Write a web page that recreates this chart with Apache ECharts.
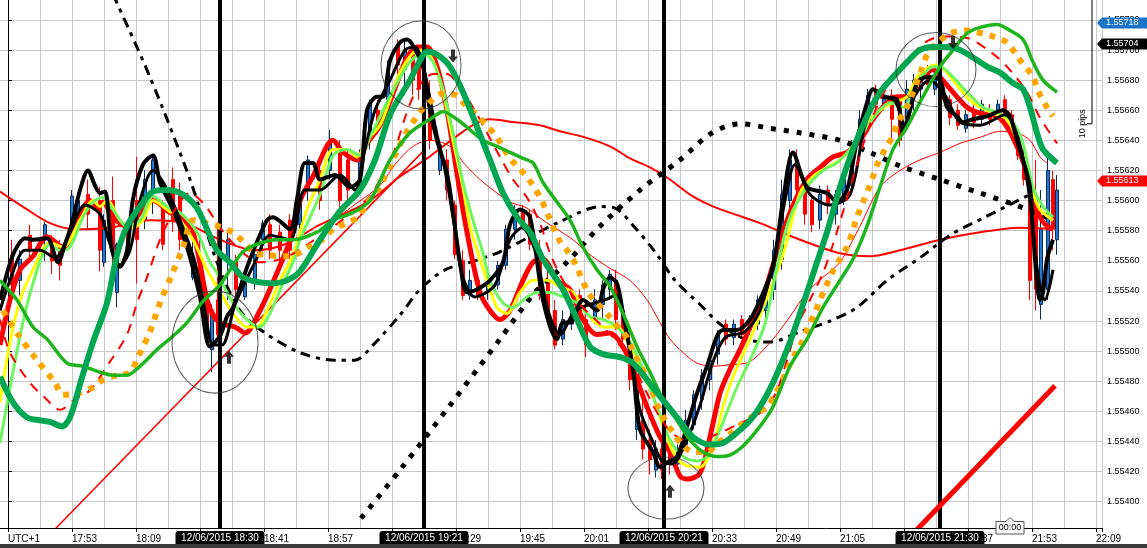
<!DOCTYPE html>
<html><head><meta charset="utf-8">
<script src="https://cdn.jsdelivr.net/npm/echarts/dist/echarts.min.js"></script>
<style>html,body{margin:0;padding:0;background:#fff;}#c{width:1147px;height:548px;}</style>
</head><body><div id="c"></div>
<script>
// time axis: minutes after 17:37 (UTC+1), 12/06/2015
const BASE_MIN = 17 * 60 + 37;
const dateStr = '12/06/2015';

// [minute, price]
const blackFast = [[-2,1.55534],[0,1.55554],[1.75,1.55567],[4.25,1.55575],[6.25,1.55574],[9.75,1.55575],[12.5,1.55559],[14.25,1.55571],[16,1.55585],[18,1.55607],[20,1.55620],[21.75,1.55610],[23,1.55605],[24.25,1.55606],[26,1.55567],[28,1.55556],[29.75,1.55567],[31.25,1.55601],[33.75,1.55624],[36.25,1.55630],[38,1.55612],[41.25,1.55594],[44.75,1.55569],[48,1.55536],[50.5,1.55503],[53,1.55510],[54.75,1.55523],[56.25,1.55529],[60.5,1.55561],[64.75,1.55587],[66.25,1.55589],[70.5,1.55581],[72.25,1.55601],[74.25,1.55625],[76.25,1.55625],[78,1.55614],[81.75,1.55617],[85.5,1.55609],[88,1.55614],[89.75,1.55660],[92.25,1.55669],[93.75,1.55669],[95.5,1.55693],[98,1.55705],[99.75,1.55707],[101.25,1.55703],[103.75,1.55689],[105.5,1.55660],[107.25,1.55640],[109.75,1.55618],[111.25,1.55592],[113,1.55559],[114.75,1.55539],[117.25,1.55541],[120.5,1.55547],[123.75,1.55559],[125.5,1.55584],[128,1.55594],[130.5,1.55589],[133.75,1.55534],[137.25,1.55508],[138.75,1.55519],[140.5,1.55519],[143.75,1.55534],[147.25,1.55527],[148.75,1.55541],[150.5,1.55549],[152.25,1.55545],[153.75,1.55525],[156.25,1.55488],[158,1.55448],[161.25,1.55433],[163,1.55423],[164.75,1.55426],[167.25,1.55430],[169.75,1.55450],[172.25,1.55472],[174.75,1.55490],[177.25,1.55510],[178.75,1.55514],[182.25,1.55514],[185.5,1.55521],[188,1.55534],[191.25,1.55556],[193.75,1.55600],[196.25,1.55632],[199.75,1.55609],[204.75,1.55605],[207.25,1.55599],[209.75,1.55607],[212.25,1.55640],[214.75,1.55665],[216.25,1.55674],[218.75,1.55669],[222.25,1.55667],[223.75,1.55645],[225.5,1.55660],[227.25,1.55678],[229.75,1.55682],[233,1.55680],[234.75,1.55662],[237.25,1.55656],[238.75,1.55652],[241.25,1.55654],[244.75,1.55656],[248.75,1.55660],[250.5,1.55656],[252.25,1.55640],[253.75,1.55627],[255.5,1.55609],[256.25,1.55579],[258,1.55534],[258.75,1.55539],[259.75,1.55561],[261.25,1.55574]];
const blackSlow = [[-2,1.55527],[0.5,1.55547],[4.25,1.55567],[8,1.55567],[11.75,1.55562],[15.5,1.55579],[19.25,1.55597],[23,1.55591],[25.5,1.55571],[28,1.55557],[30.5,1.55567],[33,1.55600],[36.25,1.55620],[39.25,1.55610],[43,1.55587],[46.75,1.55559],[49.25,1.55527],[51.25,1.55504],[53.5,1.55504],[56.75,1.55531],[61.75,1.55559],[65.5,1.55577],[70.5,1.55574],[74.25,1.55607],[78,1.55607],[83,1.55617],[86.75,1.55607],[89.25,1.55634],[91.75,1.55660],[95.5,1.55680],[99.25,1.55700],[101.75,1.55702],[104.25,1.55684],[106.75,1.55650],[109.25,1.55620],[111.75,1.55581],[113.5,1.55551],[116.75,1.55536],[121.75,1.55544],[125.5,1.55574],[128.5,1.55582],[131.75,1.55567],[135,1.55527],[138,1.55511],[141.75,1.55527],[145.5,1.55531],[149.25,1.55534],[151.75,1.55537],[155,1.55508],[158,1.55461],[161,1.55441],[163.5,1.55427],[166,1.55425],[169.25,1.55438],[173,1.55464],[176,1.55491],[179.25,1.55509],[184.25,1.55513],[188,1.55527],[191.75,1.55564],[194.25,1.55600],[196.75,1.55624],[200.5,1.55604],[205.5,1.55597],[210.5,1.55604],[214.25,1.55650],[218,1.55670],[221.75,1.55666],[224.25,1.55650],[226.75,1.55670],[230.5,1.55680],[234.25,1.55670],[238,1.55652],[243,1.55650],[249.25,1.55657],[253,1.55637],[255.5,1.55600],[257.5,1.55551],[259.25,1.55534],[261.25,1.55554]];
const redFast = [[-2,1.55504],[0.5,1.55534],[3,1.55554],[6.25,1.55563],[9.75,1.55576],[13.75,1.55569],[18,1.55592],[20.5,1.55600],[22.25,1.55595],[23.75,1.55599],[26.25,1.55589],[29.75,1.55583],[33,1.55592],[36.25,1.55600],[40.5,1.55592],[43,1.55589],[46.25,1.55579],[49.75,1.55534],[51.75,1.55522],[53.75,1.55518],[56.75,1.55516],[59.25,1.55512],[63,1.55527],[67.25,1.55552],[71.25,1.55579],[73,1.55600],[76.25,1.55616],[81.25,1.55640],[83.75,1.55632],[87.25,1.55627],[89.75,1.55638],[93,1.55650],[97.25,1.55678],[99.75,1.55695],[102.25,1.55702],[104.75,1.55702],[107.25,1.55689],[109.75,1.55660],[112.25,1.55618],[114.75,1.55579],[118,1.55539],[120.5,1.55527],[123,1.55521],[125.5,1.55527],[128.75,1.55547],[131.25,1.55559],[133.75,1.55561],[137.25,1.55547],[140.5,1.55541],[143.75,1.55521],[147.25,1.55511],[150.5,1.55512],[153.75,1.55503],[156.25,1.55488],[159.75,1.55463],[163,1.55443],[165.5,1.55433],[168,1.55417],[169.75,1.55415],[173,1.55419],[175.5,1.55443],[178,1.55472],[180.5,1.55488],[183,1.55501],[185.5,1.55516],[188.5,1.55534],[191.25,1.55557],[195.5,1.55592],[199.75,1.55614],[203,1.55622],[206.25,1.55629],[209.75,1.55632],[213,1.55640],[216.25,1.55654],[219.75,1.55665],[222.25,1.55669],[224.75,1.55669],[228,1.55680],[231.25,1.55687],[233,1.55682],[236.25,1.55672],[239.75,1.55662],[243,1.55658],[247.25,1.55656],[249.75,1.55649],[252.25,1.55636],[254.75,1.55618],[256.25,1.55600],[258,1.55589],[259.75,1.55583],[261.25,1.55581]];
const yellowMA = [[-2,1.55466],[0.5,1.55506],[3,1.55534],[6.25,1.55554],[10.5,1.55572],[13.75,1.55569],[18,1.55587],[21.25,1.55600],[23,1.55596],[24.75,1.55600],[28,1.55587],[30.5,1.55581],[33.75,1.55587],[36.25,1.55600],[39.75,1.55594],[43,1.55587],[46.25,1.55574],[49.75,1.55554],[51.25,1.55547],[53.75,1.55536],[56.25,1.55525],[59.75,1.55516],[62.25,1.55516],[64.75,1.55527],[68,1.55547],[71.25,1.55564],[74.75,1.55594],[78,1.55614],[81.25,1.55634],[84.75,1.55634],[87.25,1.55629],[89.75,1.55640],[93,1.55650],[95.5,1.55667],[98,1.55685],[101.25,1.55698],[103.75,1.55700],[106.25,1.55693],[108.75,1.55672],[111.25,1.55640],[113.75,1.55609],[115.5,1.55583],[118,1.55561],[122.25,1.55529],[124.75,1.55525],[128,1.55539],[131.25,1.55547],[134.75,1.55547],[138,1.55543],[141.25,1.55539],[144.75,1.55525],[148.75,1.55516],[152.25,1.55516],[155.5,1.55503],[158,1.55490],[161.25,1.55470],[163.75,1.55450],[166.25,1.55433],[168.75,1.55425],[173,1.55423],[176.25,1.55437],[178.75,1.55463],[181.25,1.55483],[185.5,1.55508],[188.5,1.55527],[193.75,1.55564],[198,1.55605],[201.25,1.55616],[204.75,1.55622],[208,1.55627],[211.25,1.55636],[214.75,1.55652],[218,1.55660],[221.25,1.55665],[224.75,1.55669],[227.25,1.55682],[230.5,1.55689],[232.25,1.55690],[234.75,1.55685],[238,1.55674],[241.25,1.55665],[246.25,1.55658],[249.75,1.55654],[252.25,1.55640],[254.75,1.55622],[256.25,1.55605],[258,1.55594],[261.25,1.55587]];
const limeMA = [[-2,1.55439],[3,1.55510],[6.25,1.55545],[10.5,1.55571],[13,1.55567],[15.5,1.55569],[18.75,1.55589],[21.25,1.55599],[23.75,1.55602],[26.25,1.55594],[29.75,1.55583],[33,1.55587],[36.25,1.55603],[39.75,1.55596],[43,1.55592],[47.25,1.55579],[50.5,1.55559],[52.25,1.55552],[56.25,1.55532],[59.75,1.55521],[63,1.55516],[65.5,1.55525],[68.75,1.55545],[71.25,1.55559],[73,1.55574],[78,1.55604],[81.25,1.55630],[84.75,1.55634],[88,1.55630],[90.5,1.55642],[93.75,1.55660],[97.25,1.55678],[100.5,1.55692],[103.75,1.55698],[106.25,1.55692],[108.75,1.55674],[111.25,1.55645],[113.75,1.55612],[116.25,1.55587],[118.75,1.55565],[120.5,1.55547],[123.75,1.55532],[126.25,1.55529],[129.75,1.55536],[132.25,1.55539],[135.5,1.55539],[138.75,1.55536],[142.25,1.55532],[145.5,1.55523],[148.75,1.55521],[152.25,1.55516],[155.5,1.55506],[158.75,1.55488],[162.25,1.55463],[165.5,1.55441],[168.75,1.55430],[172.25,1.55427],[174.75,1.55430],[178,1.55448],[182.25,1.55476],[185.5,1.55494],[189.25,1.55518],[192.25,1.55556],[195.5,1.55589],[199.75,1.55609],[203.75,1.55620],[207.25,1.55625],[210.5,1.55634],[213.75,1.55645],[217.25,1.55658],[220.5,1.55665],[223.75,1.55662],[227.25,1.55678],[230.5,1.55688],[233,1.55689],[236.25,1.55682],[239.75,1.55672],[243.75,1.55662],[248,1.55658],[251.25,1.55652],[253.75,1.55638],[256.25,1.55609],[258.75,1.55596],[261.25,1.55589]];
const seaGreenMA = [[-2,1.55483],[1.25,1.55466],[4.75,1.55456],[8,1.55454],[10.5,1.55453],[13.5,1.55450],[15.5,1.55456],[18,1.55478],[21.25,1.55506],[24.75,1.55532],[27.25,1.55564],[29.75,1.55583],[33,1.55596],[36.25,1.55606],[39.75,1.55607],[43.75,1.55604],[47.25,1.55595],[49.75,1.55581],[52.25,1.55567],[55.5,1.55559],[58.75,1.55549],[62.25,1.55546],[66.25,1.55545],[69.75,1.55547],[73,1.55553],[78,1.55574],[83,1.55593],[88,1.55607],[91.75,1.55627],[95.5,1.55657],[100.5,1.55680],[103,1.55693],[104.75,1.55699],[107.25,1.55697],[110.5,1.55689],[113.75,1.55672],[117.25,1.55649],[120.5,1.55627],[123.75,1.55605],[127.25,1.55589],[130.5,1.55579],[133.75,1.55561],[138.75,1.55541],[142.25,1.55521],[145.5,1.55503],[148.75,1.55498],[153,1.55496],[156.25,1.55492],[159.75,1.55481],[163,1.55470],[167.25,1.55456],[171.25,1.55443],[175.5,1.55438],[178.75,1.55439],[182.25,1.55446],[185.5,1.55454],[188,1.55463],[191.25,1.55479],[195.5,1.55506],[199.75,1.55539],[202.25,1.55559],[204.75,1.55579],[208,1.55609],[211.25,1.55634],[214.75,1.55656],[218,1.55672],[221.25,1.55682],[224.75,1.55692],[228,1.55700],[231.25,1.55702],[234.75,1.55702],[238,1.55700],[241.25,1.55695],[244.75,1.55689],[248,1.55685],[251.25,1.55678],[253.75,1.55674],[255.5,1.55662],[257.25,1.55645],[258.75,1.55634],[262.25,1.55625]];
const greenMA = [[-2,1.55547],[2.25,1.55534],[6.25,1.55516],[9.75,1.55508],[14.75,1.55492],[18.75,1.55490],[23,1.55486],[26.25,1.55484],[29.75,1.55484],[33,1.55490],[37.25,1.55501],[41.25,1.55510],[44.75,1.55519],[48.75,1.55533],[53,1.55544],[56.25,1.55557],[58.75,1.55566],[62.25,1.55571],[67.25,1.55574],[71.25,1.55574],[77.25,1.55579],[81.25,1.55587],[86.25,1.55592],[90.5,1.55600],[95.5,1.55627],[100.5,1.55645],[105.5,1.55654],[108.75,1.55659],[112.25,1.55654],[115.5,1.55647],[118.75,1.55640],[122.25,1.55636],[125.5,1.55632],[128.75,1.55628],[131.25,1.55625],[133.75,1.55612],[137.25,1.55599],[140.5,1.55587],[143.75,1.55569],[147.25,1.55554],[150.5,1.55543],[153.75,1.55525],[157.25,1.55503],[160.5,1.55486],[163.75,1.55468],[167.25,1.55454],[170.5,1.55441],[173.75,1.55433],[177.25,1.55430],[180.5,1.55431],[183.75,1.55437],[188,1.55450],[191.25,1.55463],[195.5,1.55490],[199.75,1.55508],[203.75,1.55529],[208,1.55547],[211.25,1.55561],[214.75,1.55583],[218,1.55609],[221.25,1.55634],[224.75,1.55649],[228.75,1.55669],[233,1.55689],[236.25,1.55700],[239.75,1.55711],[243,1.55715],[247.25,1.55717],[250.5,1.55713],[253.75,1.55707],[256.25,1.55692],[258.75,1.55680],[262.25,1.55672]];
const redDashedMA = [[-2,1.55521],[0.5,1.55499],[5.5,1.55479],[9.25,1.55469],[13,1.55461],[16.75,1.55468],[20.5,1.55474],[25.5,1.55493],[29.75,1.55511],[32.25,1.55532],[34.75,1.55549],[38,1.55574],[41.75,1.55594],[45.5,1.55605],[49.25,1.55597],[53,1.55582],[58,1.55567],[63,1.55559],[69.25,1.55562],[75.5,1.55572],[83,1.55586],[90.5,1.55603],[93.75,1.55618],[96.75,1.55634],[99.25,1.55655],[102.25,1.55674],[106.25,1.55684],[109.75,1.55684],[113,1.55675],[116.25,1.55662],[119.75,1.55645],[123,1.55629],[126.25,1.55614],[129.75,1.55602],[133,1.55585],[135.5,1.55565],[138.75,1.55547],[143,1.55531],[148,1.55518],[152.25,1.55506],[156.25,1.55491],[159.75,1.55472],[163,1.55456],[166.25,1.55445],[170.5,1.55440],[175.5,1.55443],[183,1.55452],[188,1.55459],[191.75,1.55471],[194.75,1.55494],[197.25,1.55516],[200.5,1.55534],[203.75,1.55552],[206.25,1.55571],[209.25,1.55597],[212.25,1.55624],[214.75,1.55645],[217.5,1.55664],[221.25,1.55682],[224.75,1.55693],[229.25,1.55705],[233.5,1.55709],[239.75,1.55708],[245.5,1.55699],[249.75,1.55689],[254.75,1.55672],[258,1.55655],[262.25,1.55638]];
const orangeDotted = [[-1.25,1.55527],[2.5,1.55511],[7.25,1.55494],[11.75,1.55479],[13.75,1.55471],[17.5,1.55472],[21.25,1.55476],[23.75,1.55481],[27.25,1.55484],[30.5,1.55486],[32.5,1.55496],[35.5,1.55513],[38,1.55532],[41,1.55551],[43.75,1.55569],[46.25,1.55587],[49.75,1.55585],[52.5,1.55583],[56,1.55579],[58.75,1.55573],[61.75,1.55565],[64.75,1.55564],[68.5,1.55563],[71.75,1.55564],[75,1.55569],[78.5,1.55574],[81.25,1.55581],[84.75,1.55585],[87.5,1.55589],[90,1.55599],[92.25,1.55606],[95.5,1.55623],[98.75,1.55641],[102.75,1.55658],[105.25,1.55665],[108.5,1.55671],[112,1.55670],[114.5,1.55663],[117.5,1.55656],[120,1.55649],[122.25,1.55642],[124.25,1.55633],[126.5,1.55625],[129,1.55618],[131.25,1.55610],[133.25,1.55601],[134.75,1.55592],[137.75,1.55574],[140,1.55566],[142,1.55557],[145,1.55539],[147.25,1.55532],[150,1.55524],[152.5,1.55516],[154.75,1.55509],[156.25,1.55500],[158,1.55491],[159.75,1.55482],[161.25,1.55472],[162.5,1.55463],[164.25,1.55454],[166.25,1.55446],[168.5,1.55438],[171.25,1.55433],[174.75,1.55433],[177.5,1.55439],[180.5,1.55445],[183.75,1.55452],[186.75,1.55458],[189.75,1.55463],[191.75,1.55471],[193.5,1.55480],[195,1.55489],[196.75,1.55498],[198.5,1.55506],[200,1.55516],[201.5,1.55524],[203,1.55534],[204.5,1.55543],[206,1.55552],[207.5,1.55559],[209.75,1.55569],[212.25,1.55589],[213.75,1.55599],[215,1.55607],[216.25,1.55616],[217.5,1.55625],[219.25,1.55634],[221,1.55642],[222.5,1.55652],[224.75,1.55662],[226.25,1.55672],[228.5,1.55688],[230,1.55698],[232.5,1.55705],[235.5,1.55711],[239.25,1.55713],[246.25,1.55709],[249.75,1.55705],[252.5,1.55695],[256.25,1.55682],[257.5,1.55673],[259.5,1.55663],[261.25,1.55656]];
const redSlowMA = [[-2,1.55606],[4.25,1.55595],[10.5,1.55585],[16.75,1.55581],[25.5,1.55582],[35.5,1.55587],[44.25,1.55585],[53,1.55574],[61.75,1.55567],[69.25,1.55571],[78,1.55584],[85.5,1.55593],[90.5,1.55600],[98,1.55616],[104.25,1.55627],[111.75,1.55642],[116.75,1.55651],[120.5,1.55654],[126.75,1.55652],[133,1.55650],[138,1.55646],[144.25,1.55642],[150.5,1.55636],[155.5,1.55628],[160.5,1.55622],[165.5,1.55614],[170.5,1.55604],[175.5,1.55597],[180.5,1.55592],[188,1.55585],[198,1.55574],[208,1.55565],[215.5,1.55563],[223,1.55567],[233,1.55574],[243,1.55579],[253,1.55582],[261.25,1.55581]];
const redThinMA = [[80,1.55584],[86,1.55596],[93,1.55610],[96.75,1.55624],[101.25,1.55636],[105.5,1.55640],[110.5,1.55636],[114.25,1.55624],[118,1.55614],[122.25,1.55605],[125.5,1.55599],[129.75,1.55595],[133.75,1.55587],[137.25,1.55581],[141.25,1.55574],[145.5,1.55564],[150.5,1.55555],[155.5,1.55547],[159.75,1.55534],[163,1.55519],[165.5,1.55508],[168.75,1.55499],[172.25,1.55492],[176.25,1.55490],[180.5,1.55491],[185.5,1.55493],[191.25,1.55508],[195.5,1.55523],[199.75,1.55539],[203.75,1.55549],[208,1.55559],[213,1.55583],[218,1.55609],[223,1.55620],[228,1.55627],[233,1.55632],[238,1.55638],[243,1.55642],[248,1.55646],[252.25,1.55645],[255.5,1.55640],[258,1.55629],[259.75,1.55625]];
const blackDotted = [[88.25,1.55389],[98,1.55421],[110.5,1.55464],[123,1.55508],[131.75,1.55539],[139.75,1.55559],[148,1.55583],[158,1.55607],[168,1.55627],[176,1.55645],[183,1.55651],[190.5,1.55648],[198,1.55645],[208,1.55640],[215.5,1.55632],[223,1.55623],[233,1.55614],[243,1.55605],[253,1.55596],[260.5,1.55588]];
const blackDashDot = [[26.25,1.55737],[35.5,1.55682],[45.5,1.55614],[52.25,1.55559],[58,1.55527],[63.75,1.55513],[73,1.55499],[81.75,1.55494],[86.75,1.55494],[91.25,1.55504],[98,1.55524],[103,1.55541],[109.25,1.55554],[115.5,1.55559],[123,1.55566],[130.5,1.55576],[138,1.55586],[148,1.55596],[151.75,1.55595],[156.75,1.55582],[161.75,1.55566],[166.75,1.55547],[173,1.55531],[178,1.55518],[184.25,1.55508],[190.5,1.55506],[198,1.55513],[205.5,1.55520],[212.25,1.55529],[219.75,1.55547],[228,1.55562],[235.5,1.55577],[244.25,1.55589],[255.5,1.55604]];
const trendLineThin = [[10,1.55377],[104.25,1.55634]];
const trendLineThick = [[226,1.55378],[261.75,1.55477]];
// [minute, open, close, low, high]
const candles = [[1,1.55564,1.55544,1.55534,1.55574],[3,1.55547,1.55561,1.55537,1.55567],[5.5,1.55577,1.55567,1.55560,1.55584],[9.25,1.55574,1.55584,1.55560,1.55586],[11,1.55574,1.55560,1.55551,1.55577],[13,1.55571,1.55557,1.55547,1.55574],[16,1.55579,1.55603,1.55574,1.55607],[17.5,1.55589,1.55600,1.55584,1.55604],[20,1.55604,1.55591,1.55581,1.55614],[23,1.55600,1.55567,1.55553,1.55609],[24,1.55559,1.55587,1.55556,1.55591],[26.25,1.55600,1.55567,1.55556,1.55616],[27.25,1.55539,1.55571,1.55529,1.55572],[30,1.55581,1.55564,1.55561,1.55584],[32.25,1.55600,1.55574,1.55545,1.55629],[34.25,1.55587,1.55614,1.55581,1.55620],[36.25,1.55607,1.55627,1.55591,1.55630],[38.75,1.55597,1.55571,1.55567,1.55600],[41.25,1.55614,1.55587,1.55579,1.55622],[43,1.55604,1.55574,1.55567,1.55612],[46.25,1.55549,1.55561,1.55547,1.55574],[48,1.55561,1.55541,1.55534,1.55574],[49.75,1.55537,1.55511,1.55508,1.55541],[51,1.55501,1.55527,1.55486,1.55531],[52.5,1.55534,1.55511,1.55508,1.55584],[55,1.55560,1.55574,1.55534,1.55579],[57,1.55560,1.55541,1.55534,1.55564],[59.25,1.55536,1.55545,1.55534,1.55551],[61.75,1.55547,1.55564,1.55541,1.55571],[63.75,1.55574,1.55585,1.55567,1.55587],[65.5,1.55584,1.55567,1.55561,1.55591],[68,1.55579,1.55567,1.55557,1.55584],[70.5,1.55587,1.55567,1.55561,1.55591],[73,1.55584,1.55604,1.55581,1.55607],[75,1.55607,1.55627,1.55600,1.55630],[78,1.55620,1.55600,1.55594,1.55627],[80.5,1.55620,1.55640,1.55614,1.55647],[83,1.55634,1.55600,1.55589,1.55640],[85,1.55627,1.55607,1.55600,1.55634],[88,1.55610,1.55627,1.55607,1.55634],[90.5,1.55640,1.55664,1.55634,1.55667],[92.5,1.55660,1.55647,1.55644,1.55667],[95,1.55667,1.55687,1.55660,1.55693],[97.5,1.55703,1.55690,1.55684,1.55707],[99.25,1.55687,1.55700,1.55670,1.55707],[101.25,1.55697,1.55680,1.55670,1.55703],[102.75,1.55693,1.55674,1.55667,1.55697],[105.5,1.55667,1.55640,1.55634,1.55680],[108,1.55620,1.55637,1.55617,1.55640],[109.75,1.55627,1.55607,1.55600,1.55634],[111.75,1.55597,1.55564,1.55561,1.55600],[113.75,1.55560,1.55537,1.55534,1.55567],[115.5,1.55537,1.55547,1.55534,1.55554],[117.5,1.55547,1.55537,1.55534,1.55551],[120,1.55539,1.55550,1.55534,1.55554],[122.5,1.55544,1.55557,1.55541,1.55560],[124.5,1.55557,1.55581,1.55554,1.55584],[126.75,1.55581,1.55594,1.55574,1.55597],[128.75,1.55594,1.55584,1.55581,1.55597],[130.5,1.55591,1.55571,1.55567,1.55594],[133,1.55564,1.55537,1.55534,1.55574],[135,1.55547,1.55524,1.55521,1.55554],[136.75,1.55527,1.55504,1.55501,1.55534],[138.75,1.55508,1.55521,1.55504,1.55527],[141,1.55518,1.55531,1.55514,1.55534],[143,1.55537,1.55524,1.55521,1.55541],[144.5,1.55521,1.55504,1.55496,1.55534],[146.75,1.55522,1.55534,1.55518,1.55541],[148.75,1.55531,1.55544,1.55521,1.55547],[150.5,1.55541,1.55551,1.55534,1.55554],[152,1.55547,1.55521,1.55514,1.55554],[153.75,1.55527,1.55508,1.55504,1.55534],[155.5,1.55504,1.55481,1.55474,1.55514],[157.25,1.55448,1.55474,1.55441,1.55481],[158.75,1.55454,1.55435,1.55428,1.55468],[160.5,1.55441,1.55428,1.55418,1.55448],[162,1.55421,1.55435,1.55416,1.55441],[163.5,1.55435,1.55421,1.55415,1.55441],[165.5,1.55438,1.55425,1.55418,1.55441],[167.5,1.55425,1.55435,1.55421,1.55438],[169.5,1.55438,1.55454,1.55435,1.55461],[171.5,1.55451,1.55471,1.55448,1.55474],[173.5,1.55468,1.55484,1.55461,1.55488],[175.5,1.55481,1.55494,1.55474,1.55498],[177.5,1.55498,1.55511,1.55491,1.55514],[179.5,1.55518,1.55508,1.55504,1.55521],[181.5,1.55509,1.55518,1.55504,1.55521],[183.5,1.55521,1.55511,1.55508,1.55524],[185.5,1.55514,1.55522,1.55511,1.55524],[187.5,1.55518,1.55534,1.55514,1.55537],[189.5,1.55527,1.55537,1.55521,1.55541],[191.5,1.55541,1.55567,1.55534,1.55574],[193.5,1.55561,1.55604,1.55554,1.55614],[195.5,1.55600,1.55627,1.55591,1.55634],[197.25,1.55627,1.55607,1.55600,1.55634],[199.25,1.55607,1.55591,1.55584,1.55614],[201,1.55600,1.55584,1.55579,1.55604],[203,1.55587,1.55604,1.55581,1.55610],[205,1.55607,1.55597,1.55591,1.55610],[207,1.55591,1.55604,1.55584,1.55607],[209,1.55600,1.55614,1.55597,1.55620],[211,1.55610,1.55634,1.55607,1.55640],[213,1.55640,1.55654,1.55634,1.55660],[215,1.55657,1.55670,1.55650,1.55674],[217,1.55674,1.55664,1.55660,1.55677],[219,1.55664,1.55670,1.55660,1.55674],[221,1.55670,1.55654,1.55640,1.55674],[223,1.55667,1.55640,1.55636,1.55670],[224.75,1.55654,1.55674,1.55647,1.55680],[226.5,1.55670,1.55680,1.55660,1.55684],[228.25,1.55674,1.55684,1.55667,1.55687],[230,1.55685,1.55677,1.55674,1.55690],[231.75,1.55674,1.55684,1.55670,1.55687],[233.5,1.55680,1.55667,1.55660,1.55684],[235.5,1.55667,1.55655,1.55650,1.55670],[237.5,1.55660,1.55650,1.55647,1.55664],[239.5,1.55648,1.55657,1.55645,1.55660],[241.5,1.55660,1.55652,1.55648,1.55664],[243.5,1.55654,1.55664,1.55650,1.55667],[245.5,1.55660,1.55654,1.55650,1.55664],[247.5,1.55657,1.55664,1.55654,1.55667],[249.25,1.55667,1.55655,1.55650,1.55670],[251,1.55657,1.55644,1.55640,1.55660],[252.5,1.55644,1.55630,1.55627,1.55647],[254,1.55627,1.55614,1.55610,1.55634],[255.5,1.55607,1.55547,1.55534,1.55617],[257,1.55600,1.55541,1.55527,1.55627],[258.25,1.55531,1.55581,1.55521,1.55607],[260,1.55541,1.55620,1.55534,1.55630],[261.25,1.55614,1.55581,1.55567,1.55620],[262.25,1.55574,1.55607,1.55564,1.55617]];

const markerTimes = [53, 104, 164, 233];          // 18:30, 19:21, 20:21, 21:30
const levels = [1.55718, 1.55704, 1.55613];
const circleCenters = [[51.75,1.55506],[103.25,1.55690],[164.5,1.55409],[232,1.55687]];
const arrowsUp = [[55.25,1.55496],[165.5,1.55407]];
const arrowsDown = [[111.25,1.55696],[236.25,1.55705]];
const dayMarker = {time: 250.5, text: '00:00'};
const pipRange = [1.55751, 1.55651];
const pipText = '10 pips';
const zoneLabel = 'UTC+1';

// ---------- styling ----------
const FONT = '"Liberation Sans", Arial, sans-serif';
const levelColors = ['#1874c6', '#000000', '#ff0000'];
const levelWidths = [1, 2, 1];
const circleSizes = [[86,102],[80,88],[76,62],[80,74]];

function hhmm(u) {
  const t = Math.round(BASE_MIN + u);
  const h = Math.floor(t / 60) % 24, m = ((t % 60) + 60) % 60;
  return String(h).padStart(2, '0') + ':' + String(m).padStart(2, '0');
}

function line(name, data, color, width, z, type, smooth) {
  return {
    type: 'line', name, data, xAxisIndex: 0, yAxisIndex: 0,
    smooth: smooth === undefined ? 0.3 : smooth, symbol: 'none', z, silent: true,
    lineStyle: {color, width, type: type || 'solid', cap: 'butt', join: 'round'},
    animation: false
  };
}

const chart = echarts.init(document.getElementById('c'), null, {renderer: 'canvas', width: 1147, height: 548});

const option = {
  animation: false,
  backgroundColor: '#ffffff',
  grid: [
    {left: -24, right: 45, top: -10.2, bottom: 16.2, containLabel: false, outerBoundsMode: 'none'},
    {left: -56, right: 45, top: 0, bottom: 20, containLabel: false, outerBoundsMode: 'none'}
  ],
  xAxis: [
    {type: 'value', gridIndex: 0, min: -8, max: 273.5, interval: 8,
     axisLine: {show: false}, axisTick: {show: false}, axisLabel: {show: false},
     splitLine: {show: true, lineStyle: {color: '#c8c8c8', width: 1}}},
    {type: 'value', gridIndex: 1, min: -16, max: 273.5, interval: 16, z: 40,
     axisLine: {show: true, onZero: false, lineStyle: {color: '#000', width: 1}},
     axisTick: {show: true, length: 4, lineStyle: {color: '#000'}},
     splitLine: {show: false},
     axisLabel: {show: true, align: 'left', margin: 6, fontSize: 10, color: '#000', fontFamily: FONT,
       formatter: v => {
         if (Math.abs(v % 16) > 1e-6) return '';
         if (Math.abs(v) < 1e-6) return zoneLabel;
         return hhmm(v);
       }}}
  ],
  yAxis: [
    {type: 'value', gridIndex: 0, position: 'right', min: 1.5538, max: 1.5574, interval: 0.0002,
     axisLine: {show: true, lineStyle: {color: '#000', width: 1}},
     axisTick: {show: true, length: 4, lineStyle: {color: '#000'}},
     splitLine: {show: true, lineStyle: {color: '#c8c8c8', width: 1}},
     axisLabel: {show: true, margin: 5, fontSize: 9, color: '#000', fontFamily: FONT,
       formatter: v => v < 1.5539 ? '' : v.toFixed(5)}},
    {type: 'value', gridIndex: 1, show: false, min: 0, max: 1}
  ],
  series: [
    {type: 'candlestick', name: 'bars', data: candles, encode: {x: 0, y: [1, 2, 3, 4]},
     xAxisIndex: 0, yAxisIndex: 0, barWidth: 3, z: 1, silent: true, animation: false,
     itemStyle: {color: '#1f78d6', color0: '#ff0000', borderColor: '#0a2a55', borderColor0: '#ff0000', borderWidth: 1}},
    line('redSlow', redSlowMA, '#ff0000', 2, 3),
    line('redThin', redThinMA, '#ff0000', 1, 3),
    line('trendThin', trendLineThin, '#ff0000', 1.5, 3, 'solid', false),
    line('blackDotted', blackDotted, '#000000', 5, 3, [5, 8]),
    line('blackDashDot', blackDashDot, '#000000', 3, 3, [10, 6, 4, 6]),
    line('red', redFast, '#ff0000', 5, 4),
    line('yellow', yellowMA, '#ffff00', 3, 4),
    line('lime', limeMA, '#6cf75e', 3, 4),
    line('black2', blackSlow, '#000000', 3, 5),
    line('black1', blackFast, '#000000', 4, 5),
    line('redDashed', redDashedMA, '#ff0000', 2, 6, [10, 8]),
    line('orange', orangeDotted, '#ffa500', 6, 6, [6, 7]),
    line('green', greenMA, '#1db41d', 3.5, 7),
    line('seaGreen', seaGreenMA, '#00a651', 6, 7),
    line('trendThick', trendLineThick, '#ff0000', 5, 7, 'solid', false),
    {type: 'line', name: 'marks', data: [[0, 1.556]], symbol: 'none', z: 20, silent: true,
     lineStyle: {opacity: 0}, animation: false,
     markLine: {silent: true, symbol: ['none', 'none'], animation: false, label: {show: false},
       data: markerTimes.map(t => ({xAxis: t, lineStyle: {color: '#000', width: 4, type: 'solid'}}))
         .concat(levels.map((p, i) => ({yAxis: p, lineStyle: {color: levelColors[i], width: levelWidths[i], type: 'solid'}})))}},
    {type: 'scatter', name: 'circles', z: 21, silent: true, animation: false,
     data: circleCenters.map((c, i) => ({value: c, symbolSize: circleSizes[i]})),
     symbol: 'path://M50,0A50,50,0,1,1,50,100A50,50,0,1,1,50,0Z',
     itemStyle: {color: 'rgba(0,0,0,0)', borderColor: '#333', borderWidth: 1}},
    {type: 'scatter', name: 'up', z: 21, silent: true, animation: false, data: arrowsUp,
     symbol: 'path://M5,0L10,6L7,6L7,13L3,13L3,6L0,6Z', symbolSize: [10, 13], itemStyle: {color: '#000'}},
    {type: 'scatter', name: 'down', z: 21, silent: true, animation: false, data: arrowsDown,
     symbol: 'path://M3,0L7,0L7,7L10,7L5,13L0,7L3,7Z', symbolSize: [10, 13], itemStyle: {color: '#000'}}
  ]
};
chart.setOption(option);

// overlays positioned through the chart's own scales
const gx = u => chart.convertToPixel({xAxisIndex: 0}, u);
const gy = p => chart.convertToPixel({yAxisIndex: 0}, p);
const g = [];
g.push({type: 'rect', silent: true, z: 30, shape: {x: 0, y: 528.5, width: 1106, height: 16}, style: {fill: '#fff'}});
markerTimes.forEach(u => {
  const x = gx(u);
  g.push({type: 'rect', silent: true, z: 50, shape: {x: x - 44.5, y: 531, width: 89, height: 15, r: 3}, style: {fill: '#000'}});
  g.push({type: 'text', silent: true, z: 51, x: x, y: 538.5,
    style: {text: dateStr + ' ' + hhmm(u), fill: '#fff', font: '10px ' + FONT, textAlign: 'center', textVerticalAlign: 'middle', verticalAlign: 'middle'}});
});
{
  const x = gx(dayMarker.time);
  g.push({type: 'polygon', silent: true, z: 52, shape: {points: [[x - 14, 521.5], [x - 4, 521.5], [x, 517.5], [x + 4, 521.5], [x + 14, 521.5], [x + 14, 534], [x - 14, 534]]},
    style: {fill: '#fff', stroke: '#555', lineWidth: 1}});
  g.push({type: 'text', silent: true, z: 53, x: x, y: 528,
    style: {text: dayMarker.text, fill: '#000', font: '9px ' + FONT, textAlign: 'center', textVerticalAlign: 'middle', verticalAlign: 'middle'}});
}
levels.forEach((p, i) => {
  const y = gy(p);
  g.push({type: 'polygon', silent: true, z: 50, shape: {points: [[1097, y], [1102, y - 5.5], [1147, y - 5.5], [1147, y + 5.5], [1102, y + 5.5]]}, style: {fill: levelColors[i]}});
  g.push({type: 'text', silent: true, z: 51, x: 1106, y: y,
    style: {text: p.toFixed(5), fill: '#fff', font: '9px ' + FONT, textVerticalAlign: 'middle', verticalAlign: 'middle'}});
});
{
  const yt = gy(pipRange[0]), yb = gy(pipRange[1]);
  g.push({type: 'polyline', silent: true, z: 45, shape: {points: [[1087, yt], [1092, yt], [1092, yb], [1087, yb]]}, style: {stroke: '#000', lineWidth: 1, fill: null}});
  g.push({type: 'text', silent: true, z: 45, x: 1083, y: gy((pipRange[0] + pipRange[1]) / 2 - 0.0005), rotation: Math.PI / 2,
    style: {text: pipText, fill: '#000', font: '9px ' + FONT, textAlign: 'center', textVerticalAlign: 'middle', verticalAlign: 'middle'}});
}
g.push({type: 'rect', silent: true, z: 60, shape: {x: 0, y: 544, width: 1147, height: 4}, style: {fill: '#3c3c3c'}});
chart.setOption({graphic: g});
</script></body></html>
